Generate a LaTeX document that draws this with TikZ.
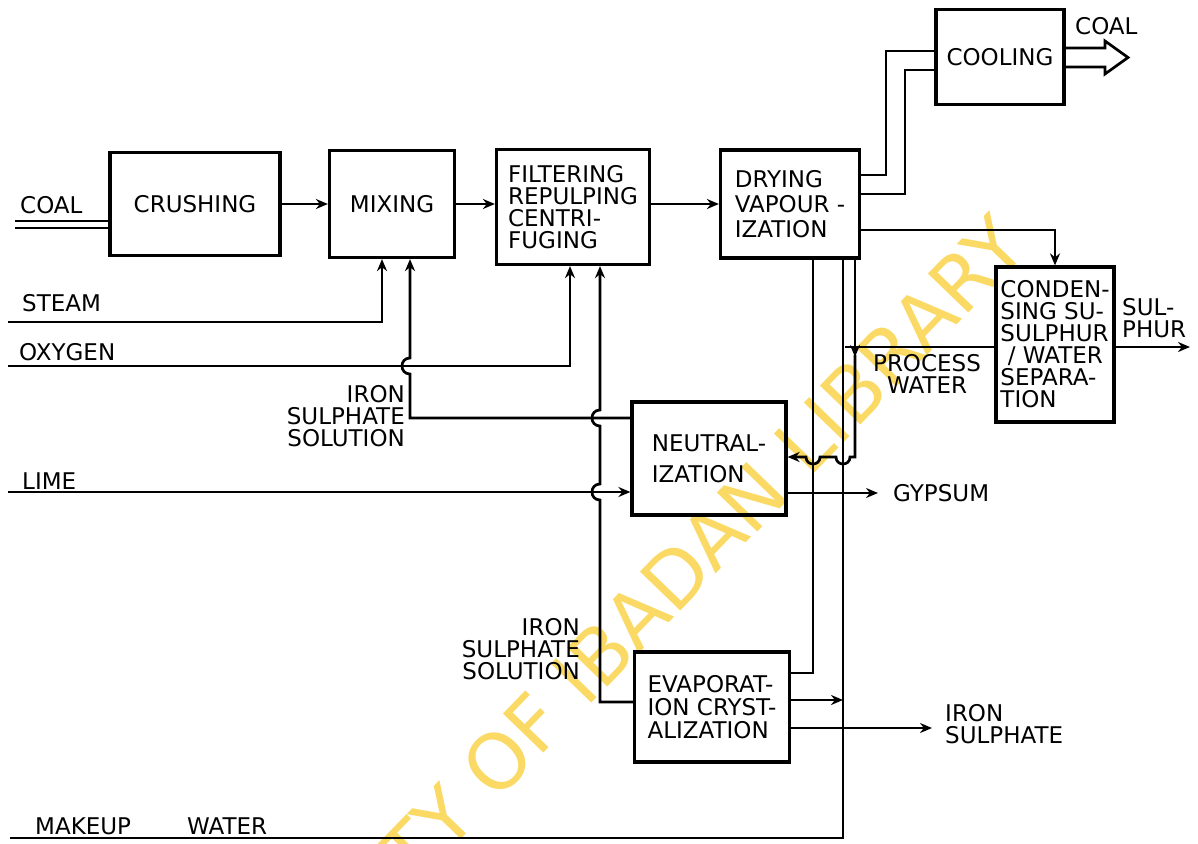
\documentclass[tikz,border=0pt]{standalone}
\usepackage{fontspec}
\setmainfont{DejaVu Sans}
\usepackage{tikz}
\usetikzlibrary{arrows.meta,positioning,calc}
\definecolor{stampyellow}{RGB}{250,218,100}

\begin{document}
\begin{tikzpicture}[
    x=1pt, y=-1pt,
    every node/.style={align=left, font=\fontsize{23}{22}\selectfont},
    unit/.style={rectangle, draw, line width=3.2pt, inner sep=0pt},
    flow/.style={line width=2.7pt},
    feed/.style={flow, -{Stealth[length=12pt,width=10pt]}},
    tag/.style={inner sep=0pt}
]
\useasboundingbox (0,0) rectangle (1198,843);
\fill[white] (0,0) rectangle (1198,843);

% library stamp
\begin{scope}
\clip (0,0) rectangle (1198,843);
\node[text=stampyellow, rotate=46, anchor=east, font=\fontsize{77}{77}\selectfont] (stamp) at (1012,228) {UNIVERSITY OF IBADAN LIBRARY};
\end{scope}

% process units
\node[unit, minimum width=170, minimum height=103] (crushing) at (195,204) {CRUSHING};
\node[unit, minimum width=125, minimum height=107] (mixing) at (392,204) {MIXING};
\node[unit, minimum width=153, minimum height=115] (filtering) at (573,207) {FILTERING\\REPULPING\\CENTRI-\\FUGING};
\node[unit, minimum width=139, minimum height=108] (drying) at (790,204) {DRYING\\[3pt]VAPOUR -\\[3pt]IZATION};
\node[unit, minimum width=128, minimum height=95] (cooling) at (1000,57) {COOLING};
\node[unit, minimum width=118, minimum height=155] (condensing) at (1055,344.5) {CONDEN-\\SING SU-\\SULPHUR\\\ / WATER\\SEPARA-\\TION};
\node[unit, minimum width=154, minimum height=113] (neutral) at (709,458.5) {NEUTRAL-\\[9pt]IZATION};
\node[unit, minimum width=155, minimum height=110] (evap) at (712,707) {EVAPORAT-\\[1pt]ION CRYST-\\[1pt]ALIZATION};

% stream labels
\node[tag, anchor=west] (coalin) at (20,205) {COAL};
\node[tag, anchor=west] (steam) at (22,303) {STEAM};
\node[tag, anchor=west] (oxygen) at (19,352) {OXYGEN};
\node[tag, anchor=west] (lime) at (22,481) {LIME};
\node[tag, anchor=west] (makeup) at (35,826) {MAKEUP\hspace{56pt}WATER};
\node[tag, anchor=east, align=right] (ironsol) at (405,416) {IRON\\SULPHATE\\SOLUTION};
\node[tag, anchor=east, align=right] (motherliq) at (580,649) {IRON\\SULPHATE\\SOLUTION};
\node[tag, align=center] (procwater) at (927,374) {PROCESS\\WATER};
\node[tag, anchor=west] (sulphur) at (1122,318) {SUL-\\PHUR};
\node[tag, anchor=west] (gypsum) at (893,493) {GYPSUM};
\node[tag, anchor=west] (ironsulph) at (945,724) {IRON\\SULPHATE};
\node[tag, anchor=west] (coalout) at (1075,26) {COAL};

% free ends
\coordinate (coalfeed) at (15,224.5);
\coordinate (steamfeed) at (8,322);
\coordinate (oxyfeed) at (8,366);
\coordinate (limefeed) at (8,492);
\coordinate (waterfeed) at (10,838);
\coordinate (sulphurend) at (1190,347);
\coordinate (procend) at (845,347);
\coordinate (vapourjoin) at (843,700);
\coordinate (ironend) at (932,728);

% main line
\draw[flow, double, double distance=5pt, line width=2.2pt] (coalfeed) -- (coalfeed -| crushing.west);
\draw[feed] (crushing.east) -- (crushing.east -| mixing.west);
\draw[feed] (mixing.east) -- (mixing.east -| filtering.west);
\draw[feed] (filtering.east |- drying.west) -- (drying.west);

% drying outlets
\draw[flow] (drying.east |- 0,175) -| (886,51) -- (cooling.west |- 0,51);
\draw[flow] (drying.east |- 0,194) -| (905,70) -- (cooling.west |- 0,70);
\draw[flow] (cooling.east |- 0,48) -- (1105,48) -- (1105,41) -- (1128,57.5) -- (1105,74) -- (1105,67) -- (cooling.east |- 0,67);
\draw[feed] (drying.east |- 0,230) -| (condensing.north);
\draw[feed] (condensing.east |- sulphurend) -- (sulphurend);
\draw[flow] (condensing.west |- procend) -- (procend);

% feeds from the left
\draw[feed] (steamfeed) -| (382,0 |- mixing.south);
\draw[feed] (oxyfeed) -| (570,0 |- filtering.south);
\draw[feed] (limefeed) -- (limefeed -| neutral.west);
\draw[flow] (waterfeed) -| (843,0 |- drying.south);

% recycle streams
\draw[feed] (neutral.west |- 0,418) -- (410,418) -- (410,374) .. controls (399.3,374) and (399.3,358) .. (410,358) -- (410,0 |- mixing.south);
\draw[feed] (evap.west |- 0,702) -- (600,702) -- (600,500) .. controls (589.3,500) and (589.3,484) .. (600,484)
    -- (600,426) .. controls (589.3,426) and (589.3,410) .. (600,410) -- (600,0 |- filtering.south);
\draw[feed] (855,0 |- drying.south) -- (855,357);
\draw[feed] (855,355) -- (855,457) -- (850,457) .. controls (850,466.3) and (836,466.3) .. (836,457)
    -- (820,457) .. controls (820,466.3) and (806,466.3) .. (806,457) -- (neutral.east |- 0,457);
\draw[flow] (813,0 |- drying.south) |- (evap.east |- 0,673);

% products
\draw[feed] (neutral.east |- gypsum.west) -- ([xshift=-15pt]gypsum.west);
\draw[feed] (evap.east |- vapourjoin) -- (vapourjoin);
\draw[feed] (evap.east |- ironend) -- (ironend);

\end{tikzpicture}
\end{document}
